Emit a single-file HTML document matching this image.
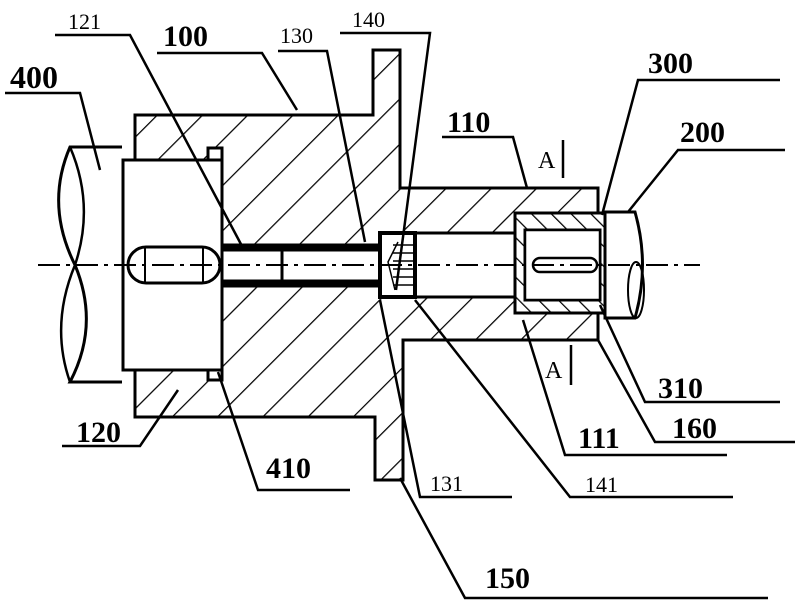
<!DOCTYPE html>
<html><head><meta charset="utf-8"><style>
html,body{margin:0;padding:0;background:#fff;}
svg{display:block;}
text{font-family:"Liberation Serif",serif;fill:#000;}
</style></head><body>
<svg width="799" height="609" viewBox="0 0 799 609" xmlns="http://www.w3.org/2000/svg">
<defs>
<pattern id="h1" patternUnits="userSpaceOnUse" width="32" height="32" patternTransform="rotate(45)">
<line x1="0" y1="0" x2="0" y2="32" stroke="#000" stroke-width="2.5"/>
</pattern>
<pattern id="h2" patternUnits="userSpaceOnUse" width="14" height="14" patternTransform="rotate(-45)">
<line x1="0" y1="0" x2="0" y2="14" stroke="#000" stroke-width="2.5"/>
</pattern>
</defs>
<g fill="none" stroke="#000" stroke-width="3" stroke-linejoin="miter">
<path d="M135,115 L373,115 L373,50 L400,50 L400,188 L598,188 L598,213 L515,213 L515,233 L380,233 L380,247 L222,247 L222,160 L135,160 Z" fill="url(#h1)"/>
<path d="M135,370 L222,370 L222,283 L380,283 L380,297 L515,297 L515,313 L598,313 L598,340 L403,340 L403,480 L375,480 L375,417 L135,417 Z" fill="url(#h1)"/>
<rect x="208" y="148" width="14" height="12" fill="#fff"/>
<rect x="208" y="370" width="14" height="10" fill="#fff"/>
<rect x="123" y="160" width="99" height="210" fill="#fff"/>
<path d="M122,147 L70,147 Q45,205 75,265 Q100,325 70,382 L122,382"/>
<path d="M70,147 Q95,205 75,265 Q50,325 70,382" stroke-width="2.5"/>
<rect x="128" y="247" width="92" height="36" rx="18" fill="#fff"/>
<line x1="145" y1="248" x2="145" y2="282" stroke-width="2"/>
<line x1="203" y1="248" x2="203" y2="282" stroke-width="2"/>
<rect x="222" y="245" width="158" height="5" fill="#000"/>
<rect x="222" y="281" width="158" height="5" fill="#000"/>
<line x1="282" y1="248" x2="282" y2="282"/>
<rect x="380" y="233" width="35" height="64" fill="#fff" stroke-width="4"/>
<path d="M393,245 h20 M393,253 h20 M393,261 h20 M393,269 h20 M393,277 h20 M393,285 h20" stroke-width="1.5"/>
<path d="M398,242 L388,262 L395,290" stroke-width="1.5"/>
<path d="M515,213 L605,213 L605,313 L515,313 Z M525,230 L525,300 L600,300 L600,230 Z" fill="url(#h2)" fill-rule="evenodd"/>
<rect x="525" y="230" width="75" height="70" fill="#fff" stroke-width="2.5"/>
<rect x="533" y="258" width="64" height="14" rx="7" fill="#fff" stroke-width="2.5"/>
<path d="M605,212 L635,212 Q650,265 635,318 L605,318 Z" fill="#fff"/>
<ellipse cx="636" cy="290" rx="8" ry="28" stroke-width="2"/>
</g>
<line x1="38" y1="265" x2="700" y2="265" stroke="#000" stroke-width="2" stroke-dasharray="22,6,4,6"/>
<g fill="none" stroke="#000" stroke-width="2.5">
<polyline points="55,35 130,35 243,248"/>
<polyline points="157,53 262,53 297,110"/>
<polyline points="278,51 327,51 365,242"/>
<polyline points="340,33 430,33 396,290"/>
<polyline points="5,93 80,93 100,170"/>
<polyline points="442,137 513,137 527,188"/>
<polyline points="780,80 638,80 602,215"/>
<polyline points="785,150 678,150 628,212"/>
<polyline points="600,305 645,402 780,402"/>
<polyline points="598,340 655,442 795,442"/>
<polyline points="523,320 565,455 727,455"/>
<polyline points="415,300 570,497 733,497"/>
<polyline points="380,300 420,497 512,497"/>
<polyline points="400,478 465,598 768,598"/>
<polyline points="218,372 258,490 350,490"/>
<polyline points="178,390 140,446 62,446"/>
<line x1="563" y1="140" x2="563" y2="178"/>
<line x1="571" y1="345" x2="571" y2="385"/>
</g>
<text x="68" y="29" font-size="22">121</text>
<text x="163" y="46" font-size="30" font-weight="bold">100</text>
<text x="280" y="43" font-size="22">130</text>
<text x="352" y="27" font-size="22">140</text>
<text x="10" y="88" font-size="32" font-weight="bold">400</text>
<text x="447" y="132" font-size="30" font-weight="bold">110</text>
<text x="538" y="168" font-size="24">A</text>
<text x="648" y="73" font-size="30" font-weight="bold">300</text>
<text x="680" y="142" font-size="30" font-weight="bold">200</text>
<text x="545" y="378" font-size="24">A</text>
<text x="658" y="398" font-size="30" font-weight="bold">310</text>
<text x="672" y="438" font-size="30" font-weight="bold">160</text>
<text x="578" y="448" font-size="30" font-weight="bold">111</text>
<text x="585" y="492" font-size="22">141</text>
<text x="430" y="491" font-size="22">131</text>
<text x="485" y="588" font-size="30" font-weight="bold">150</text>
<text x="266" y="478" font-size="30" font-weight="bold">410</text>
<text x="76" y="442" font-size="30" font-weight="bold">120</text>
</svg>
</body></html>
